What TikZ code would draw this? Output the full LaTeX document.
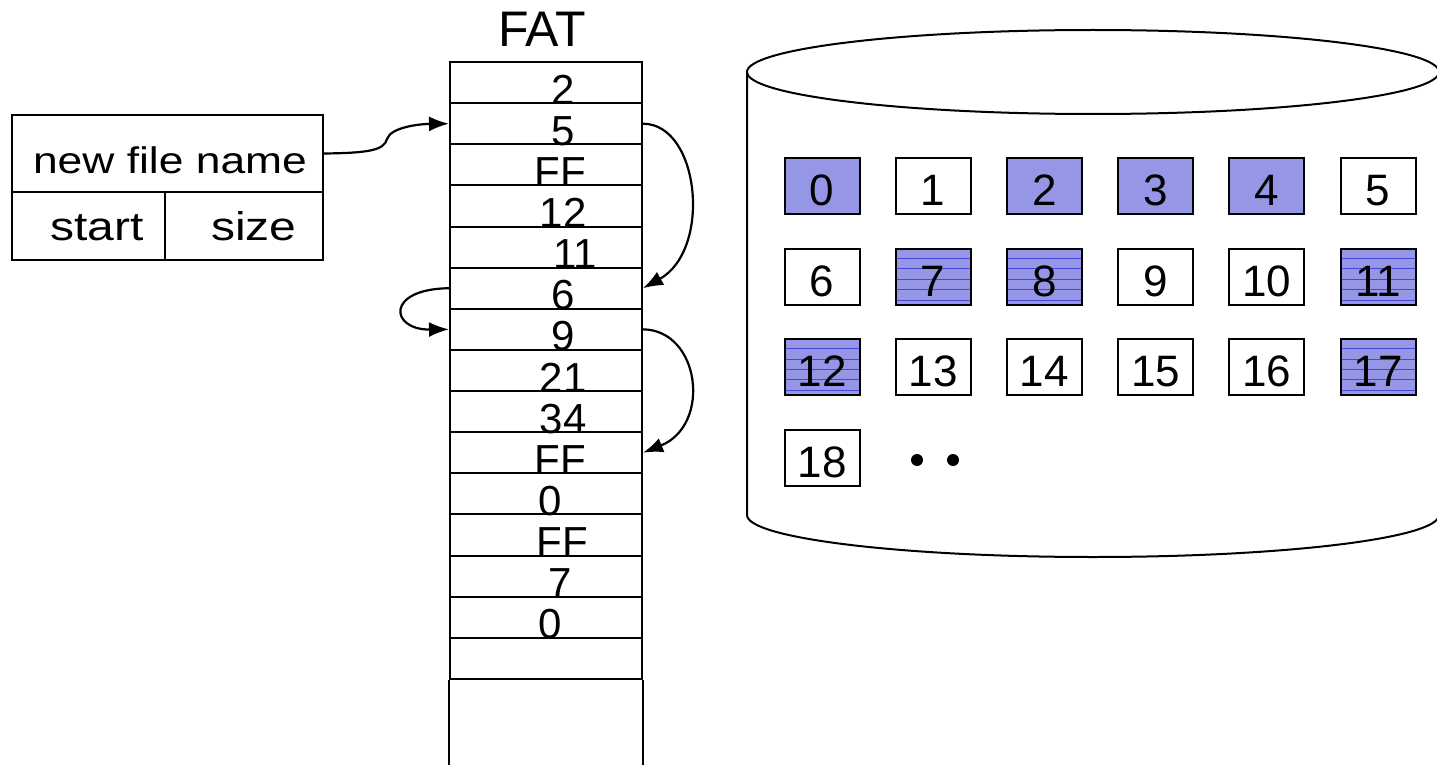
\documentclass[tikz,border=0pt]{standalone}
\usepackage{fontspec}
\setmainfont{Liberation Sans}
\newfontfamily\widesans[FakeStretch=1.2]{Liberation Sans}
\usetikzlibrary{positioning,arrows.meta,calc}
\definecolor{blkfill}{RGB}{150,150,230}
\definecolor{blkline}{RGB}{70,70,215}

\tikzset{
  cell/.style={draw, line width=1.5pt, inner sep=0pt},
  fatrow/.style={draw, line width=2pt, minimum width=192pt, minimum height=41.13pt, inner sep=0pt},
  fatval/.style={anchor=base, inner sep=0pt, font=\fontsize{42}{46}\selectfont},
  blk/.style={draw, line width=2pt, minimum width=75pt, minimum height=56pt, inner sep=0pt,
    text height=39.5pt, text depth=0pt, font=\fontsize{44}{48}\selectfont},
  free/.style={blk, fill=white},
  used/.style={blk, fill=blkfill},
  striped/.style={used, path picture={
      \foreach \f in {0.17,0.36,0.55,0.73,0.92}
        \draw[blkline, line width=0.8pt]
          ($(path picture bounding box.north west)!\f!(path picture bounding box.south west)$) --
          ($(path picture bounding box.north east)!\f!(path picture bounding box.south east)$);}},
  link/.style={-{Latex[length=20pt,width=15pt]}, line width=2.2pt},
}

\begin{document}
\begin{tikzpicture}[x=1pt, y=-1pt]
  \useasboundingbox (0,0) rectangle (1437,765);

  % directory entry
  \node[cell, minimum width=311pt, minimum height=77pt] (name) at (167.5,153.5) {};
  \node[cell, minimum width=153pt, minimum height=68pt] (start) at (88.5,226) {};
  \node[cell, minimum width=158pt, minimum height=68pt] (size) at (244,226) {};
  \node[anchor=base, font=\widesans\fontsize{37}{40}\selectfont] at (170,173) {new file name};
  \node[anchor=base, font=\widesans\fontsize{40}{44}\selectfont] at (97,240) {start};
  \node[anchor=base, font=\widesans\fontsize{40}{44}\selectfont] at (254,240) {size};

  % the table
  \foreach \i in {1,...,15}
    \node[fatrow] (fat\i) at (546, 41.13*\i+41.435) {};
  \draw[line width=2pt] (fat15.south west) -- ++(0,86) (fat15.south east) -- ++(0,86);
  \node[anchor=base, font=\fontsize{50}{54}\selectfont] (fatlabel) at (542,47) {FAT};
  \foreach \v/\dx [count=\i] in {2/17,5/17,FF/14,12/17,11/29,6/17,9/17,21/17,34/17,FF/14,0/4,FF/16,7/14,0/4}
    \node[fatval] at ([xshift=\dx pt]fat\i.south) {\v};

  % chain links
  \draw[link] (name.east) .. controls (370,153) and (384,150) .. (387,139)
    .. controls (391,127) and (420,124) .. (fat2.west);
  \draw[link] (fat2.east) .. controls (700,124) and (712,250) .. (fat6.east);
  \draw[link] (fat6.west) .. controls (385,289) and (390,330) .. (fat7.west);
  \draw[link] (fat7.east) .. controls (700,330) and (712,425) .. (fat10.east);

  % disk
  \draw[line width=2pt] (1093,72) ellipse [x radius=346pt, y radius=42pt];
  \draw[line width=2pt] (747,72) -- (747,515)
    arc[start angle=180, end angle=360, x radius=346pt, y radius=42pt] -- (1439,72);

  \foreach \n/\kind in {0/used,1/free,2/used,3/used,4/used,5/free,6/free,7/striped,8/striped,9/free,
      10/free,11/striped,12/striped,13/free,14/free,15/free,16/free,17/striped,18/free}{
    \pgfmathtruncatemacro\col{mod(\n,6)}
    \pgfmathtruncatemacro\row{\n/6}
    \node[\kind] (blk\n) at (822+111.2*\col, 186+90.5*\row) {\n};
  }
  \fill (917,460) circle[radius=6pt];
  \fill (953,460) circle[radius=6pt];
\end{tikzpicture}
\end{document}
